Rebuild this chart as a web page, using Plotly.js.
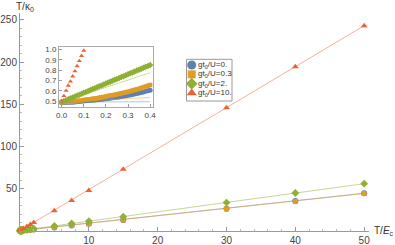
<!DOCTYPE html>
<html><head><meta charset="utf-8">
<script src="https://cdn.plot.ly/plotly-3.0.1.min.js"></script>
<style>html,body{margin:0;padding:0;background:#fff}#c{width:395px;height:245px}</style>
</head><body><div id="c"></div>
<script>
// ---- data ----
const seriesNames = ["gt<sub>0</sub>/U=0.", "gt<sub>0</sub>/U=0.3", "gt<sub>0</sub>/U=2.", "gt<sub>0</sub>/U=10."];

const xDense = [0,0.01,0.02,0.03,0.04,0.05,0.06,0.07,0.08,0.09,0.10,0.11,0.12,0.13,0.14,0.15,0.16,0.17,0.18,0.19,0.20,
                0.21,0.22,0.23,0.24,0.25,0.26,0.27,0.28,0.29,0.30,0.31,0.32,0.33,0.34,0.35,0.36,0.37,0.38,0.39,0.40,
                0.5,1,1.5,2,5,7.5,10,15,30,40,50];
const yBlue = [0.485,0.485,0.486,0.487,0.488,0.489,0.491,0.493,0.495,0.497,0.500,0.502,0.504,0.506,0.508,0.510,0.513,0.515,0.517,0.519,0.522,
               0.525,0.528,0.531,0.534,0.537,0.540,0.543,0.547,0.551,0.555,0.559,0.564,0.569,0.574,0.579,0.584,0.589,0.594,0.599,0.605,
               0.65,1.0,1.4,1.85,4.2,6.4,8.6,12.9,26.4,35.5,44.7];
const yOrange = [0.490,0.490,0.491,0.492,0.494,0.496,0.498,0.500,0.503,0.506,0.509,0.512,0.515,0.518,0.521,0.524,0.528,0.532,0.536,0.540,0.545,
                 0.549,0.553,0.557,0.562,0.566,0.571,0.575,0.580,0.585,0.590,0.596,0.602,0.608,0.614,0.620,0.627,0.634,0.641,0.648,0.655,
                 0.72,1.05,1.45,1.9,4.3,6.5,8.7,13.0,26.2,35.2,44.4];
const yGreen = [0.490,0.499,0.508,0.517,0.526,0.535,0.544,0.553,0.562,0.571,0.580,0.589,0.598,0.607,0.616,0.625,0.634,0.643,0.652,0.661,0.670,
                0.679,0.688,0.697,0.706,0.715,0.724,0.733,0.742,0.751,0.760,0.769,0.778,0.787,0.796,0.805,0.814,0.823,0.832,0.841,0.850,
                0.95,1.5,2.1,2.7,6.0,8.9,11.6,17.0,33.6,45.0,56.0];
const xRed = [0,0.01,0.02,0.03,0.04,0.05,0.06,0.07,0.08,0.09,0.10,0.5,1,1.5,2,5,7.5,10,15,30,40,50];
const yRed = [0.50,0.55,0.60,0.65,0.69,0.74,0.79,0.84,0.89,0.94,0.99,2.9,5.3,7.7,10.1,24.0,36.0,48.0,73.0,146.0,194.5,243.0];

// fitted lines (main panel)
const fitX = [0, 50];
const fitBlue = [0.49, 44.7];
const fitOrange = [0.49, 44.4];
const fitGreen = [0.49, 56.0];
const fitRed = [0.5, 243.0];
// thin lines in inset
const insetLineX = [0, 0.4];
const insetBlue = [0.49, 0.493];
const insetOrange = [0.49, 0.535];
const insetGreen = [0.49, 0.776];

const xTicks = [10,20,30,40,50];
const yTicks = [50,100,150,200,250];
const insetXTicks = [0,0.1,0.2,0.3,0.4];
const insetYTicks = [0.5,0.6,0.7,0.8,0.9,1.0];

// ---- styles ----
const col = ["#5E81B5","#E19C24","#8FB032","#EB6235"];
const sym = ["circle","square","diamond","triangle-up"];
const ys = [yBlue, yOrange, yGreen, yRed];
const xs = [xDense, xDense, xDense, xRed];
const fits = [fitBlue, fitOrange, fitGreen, fitRed];
const insetLines = [insetBlue, insetOrange, insetGreen];
const mainSize = [6,5,6,6];
const insetSize = [5,4.5,5,4.5];

const traces = [];
for (let i=0;i<4;i++) traces.push({x:fitX, y:fits[i], mode:'lines', line:{color:col[i], width:1}, opacity:0.5, xaxis:'x', yaxis:'y', cliponaxis:false});
for (let i=0;i<4;i++) traces.push({x:xs[i], y:ys[i], mode:'markers', marker:{color:col[i], symbol:sym[i], size:mainSize[i]}, xaxis:'x', yaxis:'y', cliponaxis:false});
for (let i=0;i<4;i++) traces.push({x:xs[i], y:ys[i], mode:'markers', marker:{color:col[i], symbol:sym[i], size:insetSize[i]}, xaxis:'x2', yaxis:'y2'});
for (let i=0;i<3;i++) traces.push({x:insetLineX, y:insetLines[i], mode:'lines', line:{color:col[i], width:1}, opacity:0.45, xaxis:'x2', yaxis:'y2'});
for (let i=0;i<4;i++) traces.push({x:[0.5], y:[i], mode:'markers', marker:{color:col[i], symbol:sym[i], size:[9,8,9,9][i]}, xaxis:'x3', yaxis:'y3', cliponaxis:false});

const W=395, H=245, L=20, R=26, T=13, B=14;
const pw = W-L-R, ph = H-T-B;
const px = v => (v-L)/pw;
const py = v => (H-B-v)/ph;

const fam = 'Liberation Sans, Arial, sans-serif';
const tickFont = {family:fam, size:10, color:'#444'};
const smallFont = {family:fam, size:8, color:'#444'};

const annotations = [
  {xref:'paper', yref:'paper', x:px(24.5), y:py(7), text:'T/κ<sub>0</sub>', showarrow:false, xanchor:'center', yanchor:'middle', font:{family:fam, size:10, color:'#333'}},
  {xref:'paper', yref:'paper', x:px(372), y:py(231), text:'T/<i>E</i><sub>c</sub>', showarrow:false, xanchor:'left', yanchor:'middle', font:{family:fam, size:10, color:'#333'}}
];
const rowsPx = [65,74.3,83.7,93];
for (let i=0;i<4;i++) annotations.push({xref:'paper', yref:'paper', x:px(196), y:py(rowsPx[i]), text:seriesNames[i], showarrow:false, xanchor:'left', yanchor:'middle', font:{family:fam, size:8, color:'#333'}});

const layout = {
  width:W, height:H, margin:{l:L, r:R, t:T, b:B, pad:0},
  paper_bgcolor:'#fff', plot_bgcolor:'#fff', showlegend:false,
  xaxis:{domain:[0,1], range:[0,50.7], tickvals:xTicks, ticks:'inside', ticklen:4, tickcolor:'#999',
         showline:true, linecolor:'#999', linewidth:1, showgrid:false, zeroline:false, tickfont:tickFont,
         minor:{ticks:'inside', ticklen:2, tickcolor:'#bbb', dtick:2, tick0:0, showgrid:false}, anchor:'y'},
  yaxis:{domain:[0,1], range:[0,258], tickvals:yTicks, ticks:'inside', ticklen:4, tickcolor:'#999',
         showline:true, linecolor:'#999', linewidth:1, showgrid:false, zeroline:false, tickfont:tickFont,
         minor:{ticks:'inside', ticklen:2, tickcolor:'#bbb', dtick:10, tick0:0, showgrid:false}, anchor:'x'},
  xaxis2:{domain:[px(59), px(153)], range:[-0.012,0.413], tickvals:insetXTicks, tickformat:'.1f', ticks:'inside', ticklen:3, tickcolor:'#999',
          showline:true, mirror:true, linecolor:'#aaa', linewidth:1, showgrid:false, zeroline:false, tickfont:smallFont, anchor:'y2'},
  yaxis2:{domain:[py(107), py(46.5)], range:[0.442,1.03], tickvals:insetYTicks, tickformat:'.1f', ticks:'inside', ticklen:3, tickcolor:'#999',
          showline:true, mirror:true, linecolor:'#aaa', linewidth:1, showgrid:false, zeroline:false, tickfont:smallFont, anchor:'x2'},
  xaxis3:{domain:[px(187), px(196.4)], range:[0,1], visible:false, anchor:'y3', fixedrange:true},
  yaxis3:{domain:[py(97.67), py(60.33)], range:[3.5,-0.5], visible:false, anchor:'x3', fixedrange:true},
  shapes:[{type:'rect', xref:'paper', yref:'paper', x0:px(186.5), x1:px(232), y0:py(101), y1:py(59.3), line:{color:'#999', width:1}, fillcolor:'rgba(0,0,0,0)', layer:'above'}],
  annotations: annotations
};

Plotly.newPlot('c', traces, layout, {staticPlot:true, displayModeBar:false});
</script>
</body></html>
